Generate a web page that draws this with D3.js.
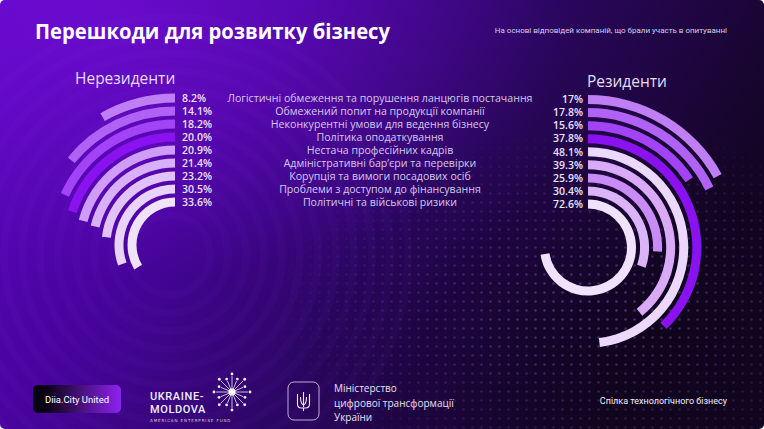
<!DOCTYPE html>
<html><head><meta charset="utf-8">
<script src="https://cdn.jsdelivr.net/npm/d3@7"></script>
<style>html,body{margin:0;padding:0;background:#fff;overflow:hidden}svg{display:block}</style>
</head><body><svg id="c" width="764" height="429"></svg>
<script>
// ---- data ----
const categories = [
  "Логістичні обмеження та порушення ланцюгів постачання",
  "Обмежений попит на продукції компанії",
  "Неконкурентні умови для ведення бізнесу",
  "Політика оподаткування",
  "Нестача професійних кадрів",
  "Адміністративні бар’єри та перевірки",
  "Корупція та вимоги посадових осіб",
  "Проблеми з доступом до фінансування",
  "Політичні та військові ризики"
];
const nonResidents = [8.2, 14.1, 18.2, 20.0, 20.9, 21.4, 23.2, 30.5, 33.6];
const nonResidentLabels = ["8.2%","14.1%","18.2%","20.0%","20.9%","21.4%","23.2%","30.5%","33.6%"];
const residents = [17, 17.8, 15.6, 37.8, 48.1, 39.3, 25.9, 30.4, 72.6];
const residentLabels = ["17%","17.8%","15.6%","37.8%","48.1%","39.3%","25.9%","30.4%","72.6%"];
const scaleTicks = [0, 100];

// ---- styles ----
const leftColors  = ["#c07ef5","#b062f5","#a244f5","#8a12f1","#cf9df7","#d8b0f8","#e1c3f9","#e9d3fa","#f0e2fb"];
const rightColors = ["#c07ef5","#b062f5","#a244f5","#8a12f1","#ecd8fb","#d9abf7","#c98bf6","#dbb3f8","#f0e2fb"];

const W = 764, H = 429;
const svg = d3.select("#c");
const defs = svg.append("defs");

// background gradients
const bg = defs.append("linearGradient").attr("id","bg").attr("x1","0").attr("y1","0").attr("x2","1").attr("y2","0.35");
bg.append("stop").attr("offset","0").attr("stop-color","#5c06c2");
bg.append("stop").attr("offset","0.35").attr("stop-color","#46049a");
bg.append("stop").attr("offset","0.62").attr("stop-color","#2c0664");
bg.append("stop").attr("offset","1").attr("stop-color","#140524");
const glow = defs.append("radialGradient").attr("id","glow").attr("cx","0.15").attr("cy","0.05").attr("r","0.6");
glow.append("stop").attr("offset","0").attr("stop-color","#7a10e0").attr("stop-opacity","0.55");
glow.append("stop").attr("offset","1").attr("stop-color","#7a10e0").attr("stop-opacity","0");
const dark = defs.append("radialGradient").attr("id","dark").attr("cx","0.85").attr("cy","0.8").attr("r","0.5");
dark.append("stop").attr("offset","0").attr("stop-color","#0c0418").attr("stop-opacity","0.6");
dark.append("stop").attr("offset","1").attr("stop-color","#0c0418").attr("stop-opacity","0");

const pat = defs.append("pattern").attr("id","dots").attr("width",9).attr("height",9).attr("patternUnits","userSpaceOnUse");
pat.append("circle").attr("cx",4.5).attr("cy",4.5).attr("r",1.3).attr("fill","#9a70d8");
const dm = defs.append("radialGradient").attr("id","dmg").attr("cx","0.78").attr("cy","0.72").attr("r","0.45");
dm.append("stop").attr("offset","0").attr("stop-color","#fff").attr("stop-opacity","0.45");
dm.append("stop").attr("offset","1").attr("stop-color","#fff").attr("stop-opacity","0");
defs.append("mask").attr("id","dmask").append("rect").attr("width",W).attr("height",H).attr("fill","url(#dmg)");

const diia = defs.append("linearGradient").attr("id","diia").attr("x1","0").attr("x2","1");
diia.append("stop").attr("offset","0.15").attr("stop-color","#0a0214");
diia.append("stop").attr("offset","1").attr("stop-color","#8e22f2");

defs.append("clipPath").attr("id","frame").append("rect").attr("width",W).attr("height",H).attr("rx",5);

const root = svg.append("g").attr("clip-path","url(#frame)");
root.append("rect").attr("width",W).attr("height",H).attr("fill","url(#bg)");
root.append("rect").attr("width",W).attr("height",H).attr("fill","url(#glow)");
root.append("rect").attr("width",W).attr("height",H).attr("fill","url(#dark)");
root.append("rect").attr("width",W).attr("height",H).attr("fill","url(#dots)").attr("mask","url(#dmask)");

// faint ripples behind left chart
const ripple = root.append("g").attr("fill","none");
d3.range(40, 240, 18).forEach((r,i) => {
  ripple.append("circle").attr("cx",170).attr("cy",255).attr("r",r)
    .attr("stroke","#a060ff").attr("stroke-opacity",0.035).attr("stroke-width",8);
});

// title
root.append("text").attr("x",35).attr("y",38.5).text("Перешкоди для розвитку бізнесу")
  .attr("font-family","'Open Sans', sans-serif").attr("font-weight",700).attr("font-size",21.5)
  .attr("textLength",355).attr("lengthAdjust","spacingAndGlyphs").attr("fill","#fff");
root.append("text").attr("x",727).attr("y",33).attr("text-anchor","end")
  .text("На основі відповідей компаній, що брали участь в опитуванні")
  .attr("font-family","Roboto, sans-serif").attr("font-size",8).attr("fill","#d8cce8");

// scales
const angle = d3.scaleLinear().domain(d3.extent(scaleTicks)).range([0, 2*Math.PI]);
const rowL = d3.scalePoint().domain(categories).range([98, 202]);
const rowR = d3.scalePoint().domain(categories).range([99.5, 204]);
const band = 9;
const labelFont = "'Open Sans', sans-serif";

function ring(cx, cy, rows, values, colors, dir) {
  const g = root.append("g").attr("transform",`translate(${cx},${cy})`);
  g.selectAll("path").data(categories).join("path")
    .attr("d", (c,i) => {
      const r = cy - rows(c);
      return d3.arc().innerRadius(r - band/2).outerRadius(r + band/2)
        .startAngle(0).endAngle(dir * angle(values[i]))();
    })
    .attr("fill", (c,i) => colors[i]);
}
ring(175, 245, rowL, nonResidents, leftColors, -1);
ring(588, 247.5, rowR, residents, rightColors, 1);

// percentage labels
root.append("g").selectAll("text").data(categories).join("text")
  .attr("x",182).attr("y",c=>rowL(c)).attr("dy","0.36em")
  .text((c,i)=>nonResidentLabels[i])
  .attr("font-family",labelFont).attr("font-size",10.5).attr("font-weight",600).attr("fill","#ece2fa");
root.append("g").selectAll("text").data(categories).join("text")
  .attr("x",583).attr("y",c=>rowR(c)).attr("dy","0.36em").attr("text-anchor","end")
  .text((c,i)=>residentLabels[i])
  .attr("font-family",labelFont).attr("font-size",10.5).attr("font-weight",600).attr("fill","#ece2fa");

// category labels
root.append("g").selectAll("text").data(categories).join("text")
  .attr("x",380).attr("y",c=>rowL(c)).attr("dy","0.36em").attr("text-anchor","middle")
  .text(c=>c)
  .attr("font-family",labelFont).attr("font-size",10.6).attr("fill","#d6c8ee");

// series titles
root.append("text").attr("x",75).attr("y",84).text("Нерезиденти")
  .attr("font-family",labelFont).attr("font-size",15.5).attr("fill","#e6dcf8");
root.append("text").attr("x",587).attr("y",87).text("Резиденти")
  .attr("font-family",labelFont).attr("font-size",15.5).attr("fill","#e6dcf8");

// ---- footer ----
const f = root.append("g");
f.append("rect").attr("x",33).attr("y",385).attr("width",88).attr("height",28).attr("rx",5).attr("fill","url(#diia)");
f.append("text").attr("x",77).attr("y",403).attr("text-anchor","middle").text("Diia.City United")
  .attr("font-family","Roboto, sans-serif").attr("font-size",9.5).attr("fill","#fff");

f.append("text").attr("x",150).attr("y",399.5).text("UKRAINE-")
  .attr("font-family","Roboto, sans-serif").attr("font-size",11).attr("font-weight",500)
  .attr("letter-spacing",0.6).attr("fill","#f2ecfa");
f.append("text").attr("x",150).attr("y",413).text("MOLDOVA")
  .attr("font-family","Roboto, sans-serif").attr("font-size",11).attr("font-weight",500)
  .attr("letter-spacing",0.6).attr("fill","#f2ecfa");
f.append("text").attr("x",150).attr("y",422).text("AMERICAN ENTERPRISE FUND")
  .attr("font-family","'DejaVu Sans', sans-serif").attr("font-size",4).attr("letter-spacing",0.9).attr("fill","#d8cce8");
// starburst
const sb = f.append("g").attr("transform","translate(232,392)");
d3.range(16).forEach(k => {
  const a = k/16*2*Math.PI, len = (k%2? 12 : 16);
  sb.append("line").attr("x1",0).attr("y1",0).attr("x2",Math.cos(a)*len).attr("y2",Math.sin(a)*len)
    .attr("stroke","#eee6fa").attr("stroke-width",0.8);
  sb.append("circle").attr("cx",Math.cos(a)*(len+2)).attr("cy",Math.sin(a)*(len+2)).attr("r",1.4).attr("fill","#f2ecfa");
});
sb.append("circle").attr("r",3.5).attr("fill","#fff");

// ministry
f.append("rect").attr("x",288).attr("y",382).attr("width",31).attr("height",38).attr("rx",6)
  .attr("fill","none").attr("stroke","#cdbfe4").attr("stroke-width",0.9);
const tr = f.append("g").attr("transform","translate(303.5,401)").attr("fill","none").attr("stroke","#eee6fa").attr("stroke-width",1.1);
tr.append("path").attr("d","M0,-9 L0,6 M-6,-7 L-6,3 Q-6,7 -2,7 L2,7 Q6,7 6,3 L6,-7 M-3,-4 Q-3,3 0,4 Q3,3 3,-4 M0,7 L0,10");
f.append("text").attr("x",334).attr("y",392).text("Міністерство")
  .attr("font-family",labelFont).attr("font-size",10).attr("fill","#eae0f8");
f.append("text").attr("x",334).attr("y",407).text("цифрової трансформації")
  .attr("font-family",labelFont).attr("font-size",10).attr("fill","#eae0f8");
f.append("text").attr("x",334).attr("y",421).text("України")
  .attr("font-family",labelFont).attr("font-size",10).attr("fill","#eae0f8");

f.append("text").attr("x",727).attr("y",404).attr("text-anchor","end").text("Спілка технологічного бізнесу")
  .attr("font-family","Roboto, sans-serif").attr("font-size",9).attr("fill","#f2ecfa");
</script></body></html>
